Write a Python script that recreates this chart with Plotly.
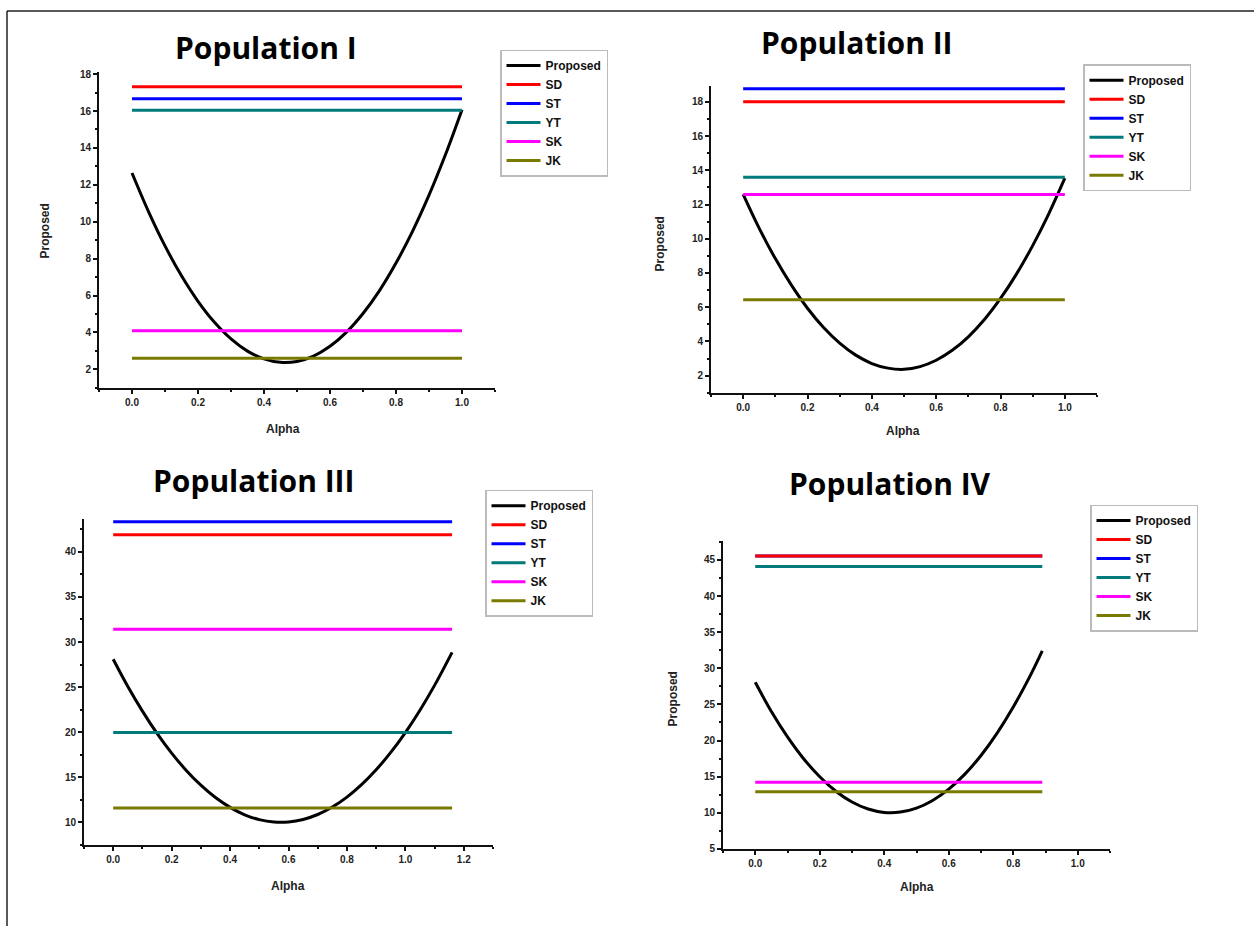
import plotly.graph_objects as go

# ---------------- data ----------------
populations = ["Population I", "Population II", "Population III", "Population IV"]
series_names = ["Proposed", "SD", "ST", "YT", "SK", "JK"]

alpha_I = [0.0, 0.05, 0.1, 0.15, 0.2, 0.25, 0.3, 0.35, 0.4, 0.45, 0.5, 0.55, 0.6, 0.65, 0.7, 0.75, 0.8, 0.85, 0.9, 0.95, 1.0]
proposed_I = [12.64, 10.55, 8.69, 7.07, 5.69, 4.55, 3.65, 2.99, 2.57, 2.38, 2.43, 2.72, 3.25, 4.02, 5.03, 6.27, 7.76, 9.48, 11.44, 13.64, 16.07]

alpha_II = [0.0, 0.05, 0.1, 0.15, 0.2, 0.25, 0.3, 0.35, 0.4, 0.45, 0.5, 0.55, 0.6, 0.65, 0.7, 0.75, 0.8, 0.85, 0.9, 0.95, 1.0]
proposed_II = [12.60, 10.61, 8.84, 7.29, 5.94, 4.81, 3.90, 3.20, 2.71, 2.44, 2.37, 2.53, 2.90, 3.48, 4.27, 5.28, 6.51, 7.95, 9.60, 11.46, 13.54]

alpha_III = [0.0, 0.05, 0.1, 0.15, 0.2, 0.25, 0.3, 0.35, 0.4, 0.45, 0.5, 0.55, 0.6, 0.65, 0.7, 0.75, 0.8, 0.85, 0.9, 0.95, 1.0, 1.05, 1.1, 1.16]
proposed_III = [28.09, 25.07, 22.34, 19.87, 17.68, 15.76, 14.12, 12.75, 11.66, 10.84, 10.30, 10.03, 10.04, 10.32, 10.87, 11.70, 12.80, 14.18, 15.83, 17.76, 19.96, 22.44, 25.19, 28.85]

alpha_IV = [0.0, 0.05, 0.1, 0.15, 0.2, 0.25, 0.3, 0.35, 0.4, 0.45, 0.5, 0.55, 0.6, 0.65, 0.7, 0.75, 0.8, 0.85, 0.89]
proposed_IV = [28.06, 24.02, 20.50, 17.48, 14.98, 12.98, 11.49, 10.51, 10.04, 10.09, 10.64, 11.70, 13.26, 15.34, 17.93, 21.03, 24.64, 28.75, 32.42]

# constant competitors, one value per population (I, II, III, IV)
sd = [17.32, 18.00, 41.90, 45.55]
st = [16.66, 18.77, 43.35, 45.55]
yt = [16.04, 13.60, 19.96, 44.08]
sk = [4.10, 12.58, 31.41, 14.22]
jk = [2.61, 6.44, 11.60, 12.90]

x_ticks_I = [0.0, 0.2, 0.4, 0.6, 0.8, 1.0]
x_ticks_III = [0.0, 0.2, 0.4, 0.6, 0.8, 1.0, 1.2]

# ---------------- styling ----------------
W, H = 1254, 932
colors = {"Proposed": "#000000", "SD": "#ff0000", "ST": "#0000ff",
          "YT": "#007a7a", "SK": "#ff00ff", "JK": "#7a7a00"}
widths = {"Proposed": 3, "SD": 3, "ST": 3, "YT": 3, "SK": 3, "JK": 3}

def px_x(p):
    return p / W

def px_y(p):
    return 1 - p / H

# panel geometry in pixels: (x_left, x_right, y_top, y_bottom)
panels = [
    dict(box=(99, 495, 69, 388), xr=[-0.1, 1.1], yr=[1, 18.1], ydt=2, ytick0=2, xticks=x_ticks_I,
         leg=(500, 46), title=(266, 44), ytitle=(45, 230), xtitle=(283, 430), show_ytitle=True),
    dict(box=(711, 1097, 83, 393), xr=[-0.1, 1.1], yr=[1, 18.92], ydt=2, ytick0=2, xticks=x_ticks_I,
         leg=(1083, 61), title=(857, 39), ytitle=(660, 243), xtitle=(903, 432), show_ytitle=True),
    dict(box=(84, 521, 521, 850), xr=[-0.1, 1.3], yr=[7.5, 43.6], ydt=5, ytick0=10, xticks=x_ticks_III,
         leg=(485, 491), title=(253, 482), ytitle=None, xtitle=(288, 892), show_ytitle=False),
    dict(box=(723, 1110, 543, 854), xr=[-0.1, 1.1], yr=[5, 47.6], ydt=5, ytick0=5, xticks=x_ticks_I,
         leg=(1090, 506), title=(890, 485), ytitle=(673, 703), xtitle=(917, 893), show_ytitle=True),
]
# fix panel III right edge (axis ends near alpha 1.3)
panels[2]["box"] = (84, 493, 521, 850)

alphas = [alpha_I, alpha_II, alpha_III, alpha_IV]
proposeds = [proposed_I, proposed_II, proposed_III, proposed_IV]
consts = {"SD": sd, "ST": st, "YT": yt, "SK": sk, "JK": jk}

fig = go.Figure()
layout = {}
annotations = []

for i, p in enumerate(panels):
    n = i + 1
    xa = "x" if n == 1 else f"x{n}"
    ya = "y" if n == 1 else f"y{n}"
    leg = "legend" if n == 1 else f"legend{n}"
    a = alphas[i]

    # draw order (ST under SD in panel IV, where they coincide)
    order = ["Proposed", "SD", "ST", "YT", "SK", "JK"]
    if i == 3:
        order = ["Proposed", "ST", "SD", "YT", "SK", "JK"]
    for name in order:
        if name == "Proposed":
            xs, ys, shape = a, proposeds[i], "spline"
        else:
            v = consts[name][i]
            xs, ys, shape = [a[0], a[-1]], [v, v], "linear"
        fig.add_trace(go.Scatter(
            x=xs, y=ys, mode="lines", name=name,
            line=dict(color=colors[name], width=widths[name], shape=shape),
            xaxis=xa, yaxis=ya, legend=leg,
            legendrank=series_names.index(name) + 1,
            hoverinfo="skip"))

    x0, x1, y0, y1 = p["box"]
    axis_common = dict(showline=True, linecolor="#111", linewidth=2, showgrid=False, zeroline=False,
                       ticks="outside", ticklen=4, tickwidth=1.5, tickcolor="#111",
                       tickfont=dict(family="Liberation Sans, Arial", size=10, color="#222", weight="bold"),
                       mirror=False, fixedrange=True)
    layout["xaxis" if n == 1 else f"xaxis{n}"] = dict(
        axis_common, domain=[px_x(x0), px_x(x1)], range=p["xr"], anchor=ya,
        tickmode="array", tickvals=p["xticks"], ticktext=[f"{t:.1f}" for t in p["xticks"]],
        minor=dict(ticks="outside", ticklen=2, tickcolor="#111", dtick=0.1, tick0=0))
    layout["yaxis" if n == 1 else f"yaxis{n}"] = dict(
        axis_common, domain=[px_y(y1), px_y(y0)], range=p["yr"], anchor=xa,
        tick0=p["ytick0"], dtick=p["ydt"],
        minor=dict(ticks="outside", ticklen=2, tickcolor="#111", dtick=p["ydt"] / 2, tick0=0))

    lx, ly = p["leg"]
    layout[leg] = dict(x=px_x(lx), y=px_y(ly), xanchor="left", yanchor="top",
                       bgcolor="white", bordercolor="#bbbbbb", borderwidth=1.5,
                       font=dict(family="Liberation Sans, Arial", size=12, color="#111", weight="bold"),
                       itemwidth=34, tracegroupgap=0, traceorder="normal")

    tx, ty = p["title"]
    annotations.append(dict(text=populations[i], x=px_x(tx), y=px_y(ty), xref="paper", yref="paper",
                            showarrow=False, xanchor="center", yanchor="middle",
                            font=dict(family="Open Sans", size=30, color="#000", weight="bold")))
    ax_, ay_ = p["xtitle"]
    annotations.append(dict(text="Alpha", x=px_x(ax_), y=px_y(ay_), xref="paper", yref="paper",
                            showarrow=False, xanchor="center", yanchor="middle",
                            font=dict(family="Liberation Sans, Arial", size=12, color="#222", weight="bold")))
    if p["show_ytitle"]:
        yx, yy = p["ytitle"]
        annotations.append(dict(text="Proposed", x=px_x(yx), y=px_y(yy), xref="paper", yref="paper",
                                showarrow=False, xanchor="center", yanchor="middle", textangle=-90,
                                font=dict(family="Liberation Sans, Arial", size=12, color="#222", weight="bold")))

# thin outer frame (top and left edges visible in the reference)
shapes = [
    dict(type="line", xref="paper", yref="paper", x0=px_x(7), x1=1.0, y0=px_y(7), y1=px_y(7),
         line=dict(color="#222", width=1.5)),
    dict(type="line", xref="paper", yref="paper", x0=px_x(7), x1=px_x(7), y0=0.0, y1=px_y(7),
         line=dict(color="#222", width=1.5)),
]

fig.update_layout(width=W, height=H, margin=dict(l=0, r=0, t=0, b=0),
                  paper_bgcolor="white", plot_bgcolor="white",
                  showlegend=True, annotations=annotations, shapes=shapes, **layout)

fig.write_html("out.html", config={"displayModeBar": False},
               post_script="document.body.style.margin='0';document.body.style.padding='0';"
                           "document.body.style.overflow='hidden';")
